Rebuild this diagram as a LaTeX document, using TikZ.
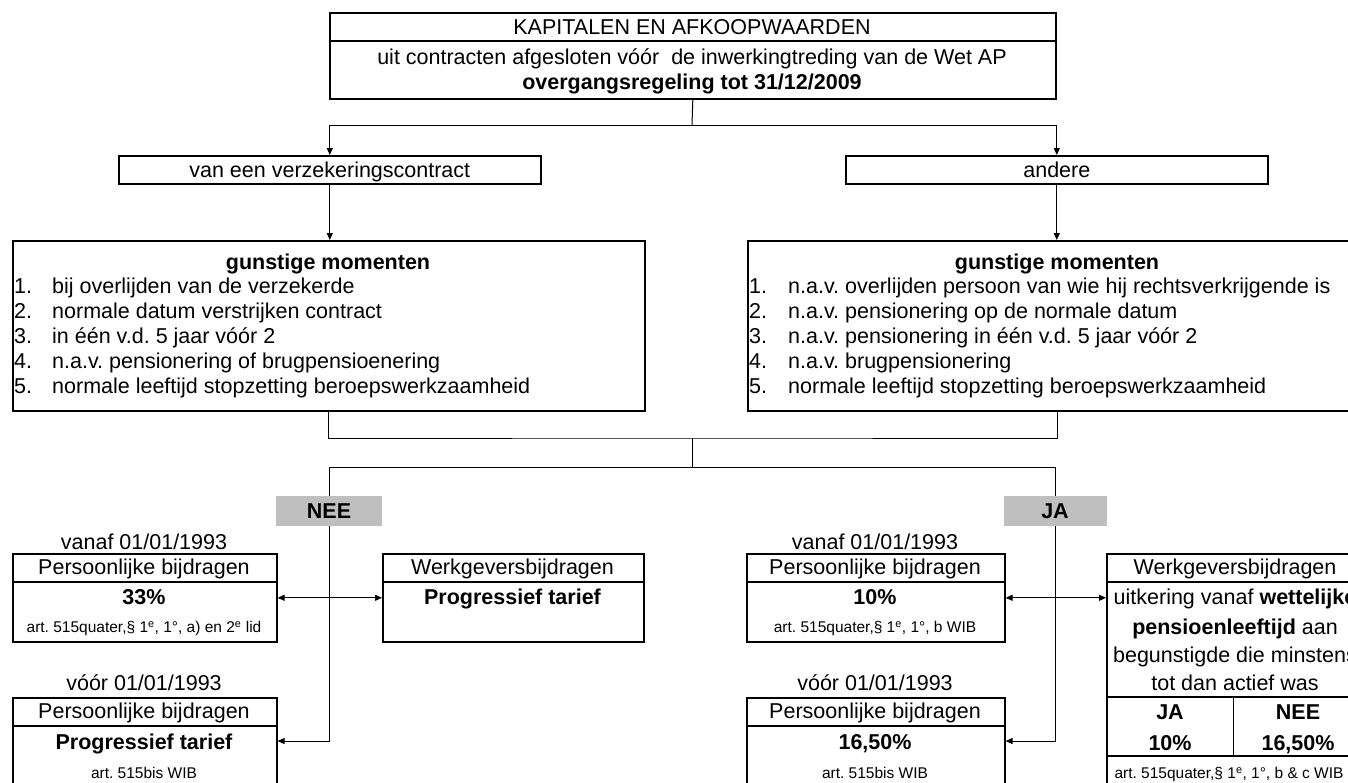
\documentclass[tikz,border=0pt]{standalone}
\usepackage{fontspec}
\setmainfont{Liberation Sans}
\usetikzlibrary{arrows.meta,calc}
\frenchspacing
\begin{document}
\begin{tikzpicture}[x=1pt,y=-1pt,
  box/.style={draw,line width=1.6pt,inner sep=0pt,anchor=north west},
  divl/.style={line width=1.6pt},
  lbl/.style={inner sep=0pt,text height=15.5pt,text depth=0pt,font=\fontsize{21.5}{25}\selectfont},
  blbl/.style={lbl,font=\bfseries\fontsize{21.5}{25}\selectfont},
  sm/.style={inner sep=0pt,text height=11pt,text depth=0pt,font=\fontsize{15.5}{18}\selectfont},
  conn/.style={line width=1pt},
  arr/.style={line width=1pt,-{Triangle[length=7pt,width=6pt]}},
  darr/.style={line width=1pt,{Triangle[length=7pt,width=6pt]}-{Triangle[length=7pt,width=6pt]}},
  tag/.style={fill=black!25,inner sep=0pt,minimum height=30pt,text height=15.5pt,text depth=0pt,font=\bfseries\fontsize{21.5}{25}\selectfont}]
\useasboundingbox (0,0) rectangle (1348,782);
\clip (0,0) rectangle (1348,782);

% top box
\node[box,minimum width=726pt,minimum height=86pt] (top) at (329,12) {};
\draw[divl] (329,41) -- (1055,41);
\node[lbl] (t1) at (692,27) {KAPITALEN EN AFKOOPWAARDEN};
\node[lbl] (t2) at (692,57) {uit contracten afgesloten vóór\ \ de inwerkingtreding van de Wet AP};
\node[blbl] (t3) at (692,82) {overgangsregeling tot 31/12/2009};

% second level
\node[box,minimum width=422pt,minimum height=28pt] (vz) at (118,155) {};
\node[lbl] at (vz.center) {van een verzekeringscontract};
\node[box,minimum width=422pt,minimum height=28pt] (an) at (845,155) {};
\node[lbl] at (an.center) {andere};
\coordinate (j1) at (692,125);
\draw[conn] (top.south) -- (j1);
\draw[arr] (j1) -| (vz.north);
\draw[arr] (j1) -| (an.north);

% gunstige momenten
\node[box,minimum width=632pt,minimum height=170pt] (gl) at (12,240) {};
\node[blbl] at (328,262) {gunstige momenten};
\foreach \n/\t [count=\i from 0] in {1./bij overlijden van de verzekerde,
  2./normale datum verstrijken contract,
  3./in één v.d. 5 jaar vóór 2,
  4./n.a.v. pensionering of brugpensioenering,
  5./normale leeftijd stopzetting beroepswerkzaamheid}{
  \node[lbl,anchor=west] at (14,286+25*\i) {\n};
  \node[lbl,anchor=west] at (52,286+25*\i) {\t};
}
\node[box,minimum width=620pt,minimum height=170pt] (gr) at (747,240) {};
\node[blbl] at (1057,262) {gunstige momenten};
\foreach \n/\t [count=\i from 0] in {1./n.a.v. overlijden persoon van wie hij rechtsverkrijgende is,
  2./n.a.v. pensionering op de normale datum,
  3./n.a.v. pensionering in één v.d. 5 jaar vóór 2,
  4./n.a.v. brugpensionering,
  5./normale leeftijd stopzetting beroepswerkzaamheid}{
  \node[lbl,anchor=west] at (749,286+25*\i) {\n};
  \node[lbl,anchor=west] at (788,286+25*\i) {\t};
}
\draw[arr] (vz.south) -- (vz.south |- gl.north);
\draw[arr] (an.south) -- (an.south |- gr.north);

% junctions
\coordinate (m1) at (692,438);
\coordinate (m2) at (692,467);
\draw[conn] (gl.south) |- (m1) -| (gr.south);
\draw[conn] (m1) -- (m2);
\node[tag,minimum width=106pt] (nee) at (329,511) {NEE};
\node[tag,minimum width=103pt] (ja) at (1055,511) {JA};
\draw[conn] (m2) -| (nee.north);
\draw[conn] (m2) -| (ja.north);

% left bottom
\node[lbl] (va1) at (144,542) {vanaf 01/01/1993};
\node[box,minimum width=264pt,minimum height=88pt] (p1) at (12,553) {};
\draw[divl] (12,582) -- (276,582);
\node[lbl] at (144,567) {Persoonlijke bijdragen};
\node[blbl] at (144,597) {33\%};
\node[sm] at (144,627) {art. 515quater,§ 1\textsuperscript{e}, 1°, a) en 2\textsuperscript{e} lid};

\node[box,minimum width=261pt,minimum height=88pt] (wl) at (382,553) {};
\draw[divl] (382,582) -- (643,582);
\node[lbl] at (512.5,567) {Werkgeversbijdragen};
\node[blbl] at (512.5,597) {Progressief tarief};

\node[lbl] (vo1) at (144,683) {vóór 01/01/1993};
\node[box,minimum width=264pt,minimum height=110pt] (p2) at (12,697) {};
\draw[divl] (12,726) -- (276,726);
\node[lbl] at (144,711) {Persoonlijke bijdragen};
\node[blbl] at (144,742) {Progressief tarief};
\node[sm] at (144,773) {art. 515bis WIB};

\draw[conn] (nee.south) -- (nee.south |- p1.east);
\draw[arr] (nee.south) |- ($(p2.north east)+(0,44)$);
\draw[darr] (p1.east) -- (wl.west);

% right bottom
\node[lbl] (va2) at (875,542) {vanaf 01/01/1993};
\node[box,minimum width=258pt,minimum height=88pt] (p3) at (746,553) {};
\draw[divl] (746,582) -- (1004,582);
\node[lbl] at (875,567) {Persoonlijke bijdragen};
\node[blbl] at (875,597) {10\%};
\node[sm] at (875,627) {art. 515quater,§ 1\textsuperscript{e}, 1°, b WIB};

\node[box,minimum width=258pt,minimum height=260pt] (wr) at (1106,553) {};
\draw[divl] (1106,582) -- (1364,582);
\node[lbl] at (1235,567) {Werkgeversbijdragen};
\node[lbl] at (1235,597) {uitkering vanaf \textbf{wettelijke}};
\node[lbl] at (1235,627) {\textbf{pensioenleeftijd} aan};
\node[lbl] at (1235,655) {begunstigde die minstens};
\node[lbl] at (1235,683) {tot dan actief was};
\draw[divl] (1106,697) -- (1364,697);
\draw[conn] (1233,697) -- (1233,756);
\draw[divl] (1106,756) -- (1364,756);
\node[blbl] at (1170,712) {JA};
\node[blbl] at (1298,712) {NEE};
\node[blbl] at (1170,743) {10\%};
\node[blbl] at (1298,743) {16,50\%};
\node[sm] at (1229,773) {art. 515quater,§ 1\textsuperscript{e}, 1°, b \& c WIB};

\node[lbl] (vo2) at (875,683) {vóór 01/01/1993};
\node[box,minimum width=258pt,minimum height=110pt] (p4) at (746,697) {};
\draw[divl] (746,726) -- (1004,726);
\node[lbl] at (875,711) {Persoonlijke bijdragen};
\node[blbl] at (875,742) {16,50\%};
\node[sm] at (875,773) {art. 515bis WIB};

\draw[arr] (ja.south) |- ($(p4.north east)+(0,44)$);
\draw[darr] (p3.east) -- (p3.east -| wr.west);
\end{tikzpicture}
\end{document}
